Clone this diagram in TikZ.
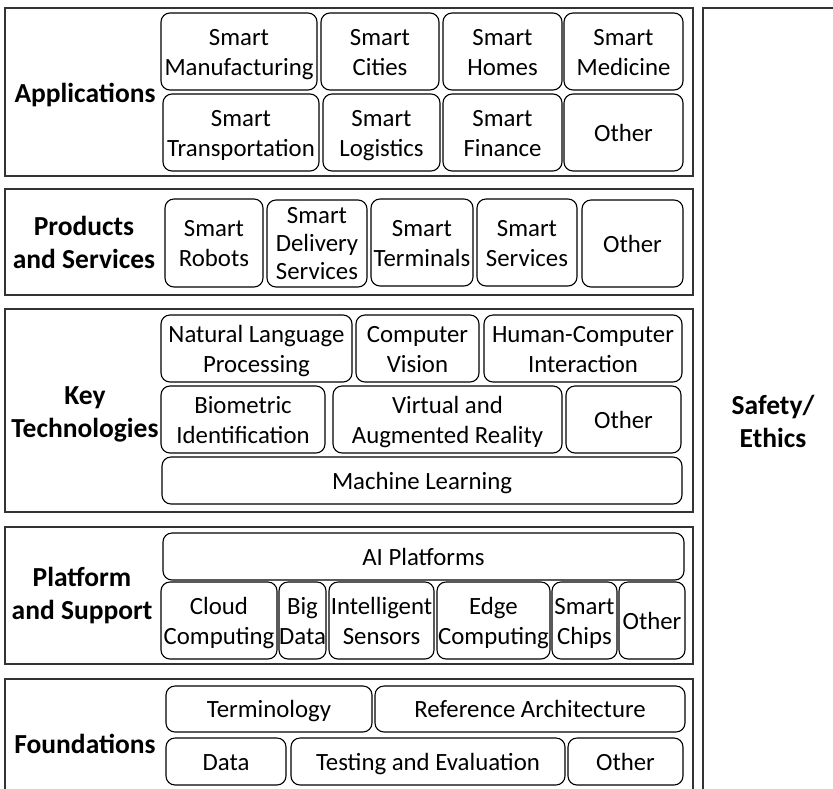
\documentclass[tikz,border=0pt]{standalone}
\usepackage{fontspec}
\setmainfont{Carlito}
\begin{document}
\begin{tikzpicture}[x=1pt,y=-1pt,
  outer/.style={draw=black!80, line width=1.5pt},
  inbox/.style={draw=black, line width=1.1pt, rounded corners=9pt},
  itxt/.style={align=center, inner sep=0pt, yshift=-2.5pt, font=\fontsize{24.8}{30}\selectfont},
  lbl/.style={align=center, inner sep=0pt, font=\fontsize{27.5}{33}\selectfont\bfseries}]
\useasboundingbox (0,0) rectangle (833,788);
\clip (0,0) rectangle (833,788);
\newcommand{\bx}[6]{%
  \draw[inbox] (#2,#3) rectangle (#4,#5);
  \node[itxt] (#1) at ({(#2+#4)/2},{(#3+#5)/2}) {\strut#6\strut};}
% outer layers
\draw[outer] (5,8) rectangle (693,176);
\draw[outer] (5,189) rectangle (693,295);
\draw[outer] (5,309) rectangle (693,512);
\draw[outer] (5,527) rectangle (693,664);
\draw[outer] (5,679) rectangle (693,800);
\draw[outer] (703,8) rectangle (850,800);
% labels
\node[lbl] (app) at (85,95) {Applications};
\node[lbl] (prod) at (84,242) {Products\\and Services};
\node[lbl] (key) at (85,414) {Key\\Technologies};
\node[lbl] (plat) at (82,596) {Platform\\and Support};
\node[lbl] (found) at (85,744) {Foundations};
\node[lbl] (safe) at (773,421) {Safety/\\Ethics};
% Applications
\bx{a1}{161}{13}{317}{90}{Smart\\Manufacturing}
\bx{a2}{321}{13}{439}{90}{Smart\\Cities}
\bx{a3}{443}{13}{562}{90}{Smart\\Homes}
\bx{a4}{564}{13}{683}{90}{Smart\\Medicine}
\bx{a5}{163}{94}{319}{171}{Smart\\Transportation}
\bx{a6}{323}{94}{440}{171}{Smart\\Logistics}
\bx{a7}{443}{94}{562}{171}{Smart\\Finance}
\bx{a8}{564}{94}{683}{171}{Other}
% Products and Services
\bx{p1}{165}{199}{263}{287}{Smart\\Robots}
\draw[inbox] (267,200) rectangle (367,287);
\node[itxt, font=\fontsize{24.8}{28}\selectfont] (p2) at (317,243.5) {\strut Smart\\Delivery\\Services\strut};
\bx{p3}{371}{199}{473}{286}{Smart\\Terminals}
\bx{p4}{477}{199}{577}{286}{Smart\\Services}
\bx{p5}{582}{200}{683}{287}{Other}
% Key Technologies
\bx{k1}{161}{315}{352}{382}{Natural Language\\Processing}
\bx{k2}{356}{315}{479}{382}{Computer\\Vision}
\bx{k3}{484}{315}{682}{382}{Human-Computer\\Interaction}
\bx{k4}{161}{386}{325}{453}{Biometric\\Identification}
\bx{k5}{333}{386}{562}{453}{Virtual and\\Augmented Reality}
\bx{k6}{566}{386}{681}{453}{Other}
\bx{k7}{162}{457}{682}{504}{Machine Learning}
% Platform and Support
\bx{s1}{163}{533}{684}{580}{AI Platforms}
\bx{s2}{161}{582}{277}{659}{Cloud\\Computing}
\bx{s3}{279}{582}{326}{659}{Big\\Data}
\bx{s4}{329}{582}{434}{659}{Intelligent\\Sensors}
\bx{s5}{437}{582}{550}{659}{Edge\\Computing}
\bx{s6}{552}{582}{617}{659}{Smart\\Chips}
\bx{s7}{619}{582}{685}{659}{Other}
% Foundations
\bx{f1}{166}{686}{372}{732}{Terminology}
\bx{f2}{375}{686}{685}{732}{Reference Architecture}
\bx{f3}{166}{738}{286}{785}{Data}
\bx{f4}{291}{738}{565}{785}{Testing and Evaluation}
\bx{f5}{568}{738}{683}{785}{Other}
\end{tikzpicture}
\end{document}
